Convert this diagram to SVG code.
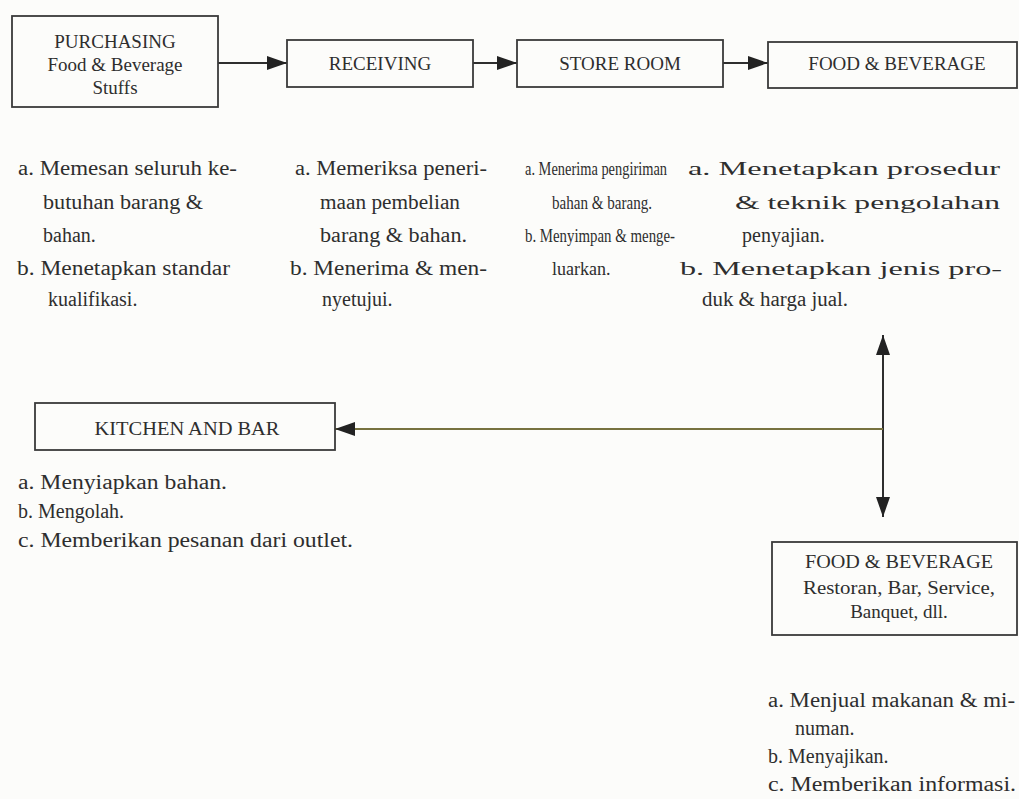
<svg xmlns="http://www.w3.org/2000/svg" width="1019" height="799" viewBox="0 0 1019 799">
  <defs>
    <style>
      .bg { fill: #fcfcfa; }
      .box { fill: none; stroke: #3a3a3a; stroke-width: 1.8; }
      .t { font-family: "Liberation Serif", "Times New Roman", serif; font-size: 20px; fill: #2e2e2e; }
      .s { font-size: 18px; }
      .w { font-size: 18px; }
      .bt { font-family: "Liberation Serif", "Times New Roman", serif; font-size: 19px; fill: #2e2e2e; text-anchor: middle; }
      .conn { fill: none; stroke: #2e2e2e; stroke-width: 2; }
      .olive { fill: none; stroke: #77723f; stroke-width: 2; }
    </style>
    <marker id="ah" viewBox="0 0 20 14" refX="20" refY="7" markerWidth="20" markerHeight="14" markerUnits="userSpaceOnUse" orient="auto">
      <path d="M0,0 L20,7 L0,14 z" fill="#222"/>
    </marker>
  </defs>

  <rect class="bg" x="0" y="0" width="1019" height="799"/>

  <g id="connectors">
    <line class="conn" x1="218" y1="63" x2="287" y2="63" marker-end="url(#ah)"/>
    <line class="conn" x1="473" y1="63" x2="517" y2="63" marker-end="url(#ah)"/>
    <line class="conn" x1="723" y1="63" x2="768" y2="63" marker-end="url(#ah)"/>
    <line class="conn" x1="883" y1="429" x2="883" y2="335" marker-end="url(#ah)"/>
    <line class="conn" x1="883" y1="429" x2="883" y2="517" marker-end="url(#ah)"/>
    <line class="olive" x1="883" y1="429" x2="335" y2="429" marker-end="url(#ah)"/>
  </g>

  <g id="purchasing">
    <rect class="box" x="12" y="16" width="206" height="91"/>
    <text class="bt" x="115" y="48">PURCHASING</text>
    <text class="bt" x="115" y="71">Food &amp; Beverage</text>
    <text class="bt" x="115" y="94">Stuffs</text>
    <text class="t" x="18" y="175" textLength="219" lengthAdjust="spacingAndGlyphs">a. Memesan seluruh ke-</text>
    <text class="t" x="43" y="209" textLength="160" lengthAdjust="spacingAndGlyphs">butuhan barang &amp;</text>
    <text class="t" x="43" y="242">bahan.</text>
    <text class="t" x="17" y="275" textLength="213" lengthAdjust="spacingAndGlyphs">b. Menetapkan standar</text>
    <text class="t" x="48" y="306">kualifikasi.</text>
  </g>

  <g id="receiving">
    <rect class="box" x="287" y="40" width="186" height="47"/>
    <text class="bt" x="380" y="70">RECEIVING</text>
    <text class="t" x="295" y="175" textLength="192" lengthAdjust="spacingAndGlyphs">a. Memeriksa peneri-</text>
    <text class="t" x="320" y="209" textLength="140" lengthAdjust="spacingAndGlyphs">maan pembelian</text>
    <text class="t" x="320" y="242" textLength="147" lengthAdjust="spacingAndGlyphs">barang &amp; bahan.</text>
    <text class="t" x="290" y="275" textLength="197" lengthAdjust="spacingAndGlyphs">b. Menerima &amp; men-</text>
    <text class="t" x="322" y="306">nyetujui.</text>
  </g>

  <g id="store-room">
    <rect class="box" x="517" y="40" width="206" height="47"/>
    <text class="bt" x="620" y="70">STORE ROOM</text>
    <text class="t s" x="525" y="175" textLength="142" lengthAdjust="spacingAndGlyphs">a. Menerima pengiriman</text>
    <text class="t s" x="552" y="209" textLength="100" lengthAdjust="spacingAndGlyphs">bahan &amp; barang.</text>
    <text class="t s" x="525" y="242" textLength="150" lengthAdjust="spacingAndGlyphs">b. Menyimpan &amp; menge-</text>
    <text class="t s" x="552" y="275">luarkan.</text>
  </g>

  <g id="food-beverage-top">
    <rect class="box" x="768" y="42" width="249" height="46"/>
    <text class="bt" x="897" y="70">FOOD &amp; BEVERAGE</text>
    <text class="t w" x="688" y="175" textLength="312" lengthAdjust="spacingAndGlyphs">a. Menetapkan prosedur</text>
    <text class="t w" x="735" y="209" textLength="265" lengthAdjust="spacingAndGlyphs">&amp; teknik pengolahan</text>
    <text class="t" x="742" y="242">penyajian.</text>
    <text class="t w" x="680" y="275" textLength="322" lengthAdjust="spacingAndGlyphs">b. Menetapkan jenis pro-</text>
    <text class="t" x="702" y="306" textLength="146" lengthAdjust="spacingAndGlyphs">duk &amp; harga jual.</text>
  </g>

  <g id="kitchen-bar">
    <rect class="box" x="35" y="403" width="300" height="47"/>
    <text class="bt" x="187" y="435" textLength="185" lengthAdjust="spacingAndGlyphs">KITCHEN AND BAR</text>
    <text class="t" x="18" y="489" textLength="209" lengthAdjust="spacingAndGlyphs">a. Menyiapkan bahan.</text>
    <text class="t" x="18" y="518">b. Mengolah.</text>
    <text class="t" x="18" y="547" textLength="335" lengthAdjust="spacingAndGlyphs">c. Memberikan pesanan dari outlet.</text>
  </g>

  <g id="food-beverage-outlet">
    <rect class="box" x="772" y="542" width="245" height="93"/>
    <text class="bt" x="899" y="568" textLength="188" lengthAdjust="spacingAndGlyphs">FOOD &amp; BEVERAGE</text>
    <text class="bt" x="899" y="594" textLength="192" lengthAdjust="spacingAndGlyphs">Restoran, Bar, Service,</text>
    <text class="bt" x="899" y="618">Banquet, dll.</text>
    <text class="t" x="768" y="707" textLength="247" lengthAdjust="spacingAndGlyphs">a. Menjual makanan &amp; mi-</text>
    <text class="t" x="795" y="735">numan.</text>
    <text class="t" x="768" y="763">b. Menyajikan.</text>
    <text class="t" x="768" y="791" textLength="248" lengthAdjust="spacingAndGlyphs">c. Memberikan informasi.</text>
  </g>
</svg>
